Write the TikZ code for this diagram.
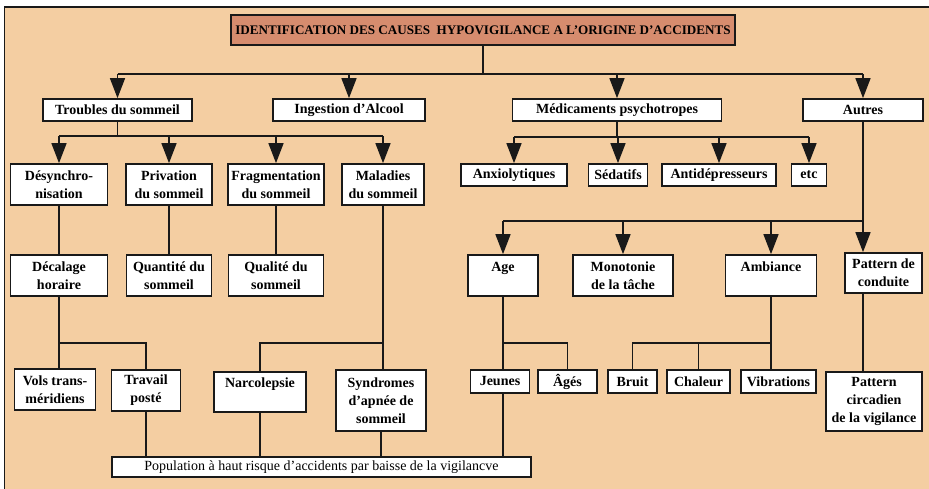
\documentclass[tikz,border=0pt]{standalone}
\usepackage{fontspec}
\setmainfont{Liberation Serif}
\usetikzlibrary{arrows.meta,positioning,calc}
\definecolor{paper}{RGB}{244,206,162}
\definecolor{titlefill}{RGB}{214,140,110}
\definecolor{ink}{RGB}{25,25,25}

\begin{document}
\begin{tikzpicture}[
  x=1pt, y=-1pt,
  font=\fontsize{14}{18}\selectfont\bfseries,
  cell/.style={draw=ink, line width=1.7pt, fill=white, inner sep=0pt, align=center},
  titlecell/.style={cell, fill=titlefill, font=\fontsize{13.1}{15}\selectfont\bfseries},
  popcell/.style={cell, font=\fontsize{14}{18}\selectfont},
  link/.style={draw=ink, line width=1.5pt},
  arrowlink/.style={link, -{Triangle[width=15pt,length=20pt]}}
]
\useasboundingbox (0,0) rectangle (929,489);
\fill[paper] (4.5,7) rectangle (929,489);
\draw[ink, line width=1.2pt] (4.5,489) -- (4.5,7) -- (929,7);

% title and first level
\node[titlecell, minimum width=504, minimum height=30] (title) at (483,30) {IDENTIFICATION DES CAUSES\ \ HYPOVIGILANCE A L'ORIGINE D'ACCIDENTS};
\node[cell, minimum width=149, minimum height=22] (trb) at (117.5,110) {Troubles du sommeil};
\node[cell, minimum width=152, minimum height=22] (alc) at (349,110) {Ingestion d'Alcool};
\node[cell, minimum width=209, minimum height=22] (med) at (617,110) {Médicaments psychotropes};
\node[cell, minimum width=120, minimum height=22] (aut) at (863,110) {Autres};

\coordinate (topbar) at (483,74);
\draw[link] (title.south) -- (title.south |- topbar);
\draw[link] (trb.north |- topbar) -- (aut.north |- topbar);
\foreach \n in {trb,alc,med,aut} {\draw[arrowlink] (\n.north |- topbar) -- (\n.north);}

% troubles du sommeil
\node[cell, minimum width=97, minimum height=41] (des) at (59,184.5) {Désynchro-\\nisation};
\node[cell, minimum width=86, minimum height=41] (pri) at (169,184.5) {Privation\\du sommeil};
\node[cell, minimum width=96, minimum height=41] (fra) at (276,184.5) {Fragmentation\\du sommeil};
\node[cell, minimum width=82, minimum height=41] (mal) at (383,184.5) {Maladies\\du sommeil};

\coordinate (trbbar) at (0,136);
\draw[link] (trb.south) -- (trb.south |- trbbar);
\draw[link] (des.north |- trbbar) -- (mal.north |- trbbar);
\foreach \n in {des,pri,fra,mal} {\draw[arrowlink] (\n.north |- trbbar) -- (\n.north);}

\node[cell, minimum width=97, minimum height=41] (dec) at (59,275.5) {Décalage\\horaire};
\node[cell, minimum width=85, minimum height=41] (qua) at (169,275.5) {Quantité du\\sommeil};
\node[cell, minimum width=95, minimum height=41] (qul) at (276,275.5) {Qualité du\\sommeil};
\draw[link] (des.south) -- (des.south |- dec.north);
\draw[link] (pri.south) -- (pri.south |- qua.north);
\draw[link] (fra.south) -- (fra.south |- qul.north);

\coordinate (lowbar) at (0,343);
\node[cell, minimum width=81, minimum height=41] (vol) at (55,389.5) {Vols trans-\\méridiens};
\node[cell, minimum width=69, minimum height=41] (tra) at (146,390.5) {Travail\\posté};
\node[cell, minimum width=92, minimum height=40] (nar) at (260,392) {Narcolepsie\\~};
\node[cell, minimum width=90, minimum height=61] (syn) at (381,400.5) {Syndromes\\d'apnée de\\sommeil};
\draw[link] (dec.south) -- (dec.south |- vol.north);
\draw[link] (dec.south |- lowbar) -- (tra.north |- lowbar) -- (tra.north);
\draw[link] (mal.south) -- (mal.south |- syn.north);
\draw[link] (nar.north) -- (nar.north |- lowbar) -- (mal.south |- lowbar);

% medicaments
\node[cell, minimum width=106, minimum height=22] (anx) at (514,175) {Anxiolytiques};
\node[cell, minimum width=59, minimum height=22] (sed) at (618,175) {Sédatifs};
\node[cell, minimum width=114, minimum height=22] (ant) at (719,175) {Antidépresseurs};
\node[cell, minimum width=35, minimum height=22] (etc) at (809,175) {etc};
\coordinate (medbar) at (0,137);
\draw[link] (med.south) -- (med.south |- medbar);
\draw[link] (anx.north |- medbar) -- (etc.north |- medbar);
\foreach \n in {anx,sed,ant,etc} {\draw[arrowlink] (\n.north |- medbar) -- (\n.north);}

% autres
\node[cell, minimum width=70, minimum height=41] (age) at (503,275.5) {Age\\~};
\node[cell, minimum width=100, minimum height=41] (mon) at (623,275.5) {Monotonie\\de la tâche};
\node[cell, minimum width=91, minimum height=41] (amb) at (771,275.5) {Ambiance\\~};
\node[cell, minimum width=77, minimum height=40] (pat) at (883.5,273) {Pattern de\\conduite};
\coordinate (autbar) at (0,221);
\draw[arrowlink] (aut.south) -- (aut.south |- pat.north);
\draw[link] (age.north |- autbar) -- (aut.south |- autbar);
\foreach \n in {age,mon,amb} {\draw[arrowlink] (\n.north |- autbar) -- (\n.north);}

\node[cell, minimum width=59, minimum height=23] (jeu) at (500,381.5) {Jeunes};
\node[cell, minimum width=59, minimum height=23] (ags) at (567.5,381.5) {Âgés};
\node[cell, minimum width=49, minimum height=23] (bru) at (632.5,381.5) {Bruit};
\node[cell, minimum width=63, minimum height=23] (cha) at (698.5,381.5) {Chaleur};
\node[cell, minimum width=75, minimum height=23] (vib) at (778.5,381.5) {Vibrations};
\node[cell, minimum width=96, minimum height=59] (cir) at (874,401.5) {Pattern\\circadien\\de la vigilance};
\draw[link] (age.south) -- (age.south |- jeu.north);
\draw[link] (age.south |- lowbar) -- (ags.north |- lowbar) -- (ags.north);
\draw[link] (amb.south) -- (amb.south |- vib.north);
\draw[link] (bru.north) -- (bru.north |- lowbar) -- (amb.south |- lowbar);
\draw[link] (cha.north) -- (cha.north |- lowbar);
\draw[link] (aut.south |- pat.south) -- (aut.south |- cir.north);

% population
\node[popcell, minimum width=419, minimum height=20] (pop) at (321.5,467) {Population à haut risque d'accidents par baisse de la vigilancve};
\foreach \n in {tra,nar,syn} {\draw[link] (\n.south) -- (\n.south |- pop.north);}
\draw[link] (age.south |- jeu.south) -- (age.south |- pop.north);
\end{tikzpicture}
\end{document}
